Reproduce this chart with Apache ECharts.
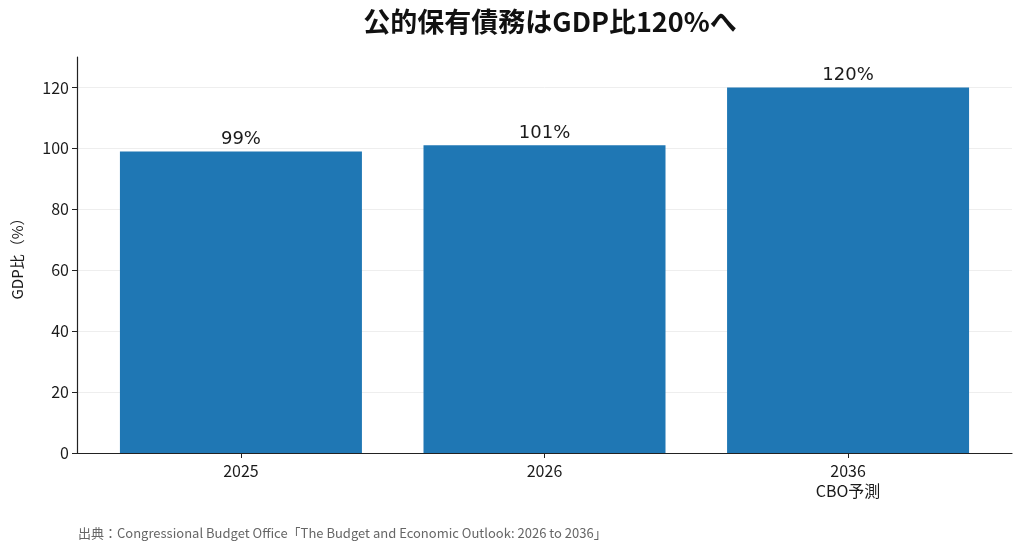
<!DOCTYPE html>
<html>
<head>
<meta charset="utf-8">
<script src="https://cdn.jsdelivr.net/npm/echarts@6/dist/echarts.min.js"></script>
<style>
  html, body { margin: 0; padding: 0; background: #fff; }
  #chart { width: 1024px; height: 556px; }
</style>
</head>
<body>
<div id="chart"></div>
<script>
// データ
const categories = ['2025', '2026', '2036\nCBO予測'];
const debtRatio = [99, 101, 120];
const barLabels = ['99%', '101%', '120%'];
const yTicks = [0, 20, 40, 60, 80, 100, 120];

const jp = '"Noto Sans CJK JP", "Noto Sans", sans-serif';

let chart = echarts.init(document.getElementById('chart'));

let option = {
  backgroundColor: '#ffffff',
  animation: false,
  title: {
    text: '公的保有債務はGDP比120%へ',
    left: 545,
    textAlign: 'center',
    top: 3,
    textStyle: { fontFamily: jp, fontSize: 27, fontWeight: 'bold', color: '#111' }
  },
  graphic: [{
    type: 'text',
    left: 78,
    top: 527,
    style: {
      text: '出典：Congressional Budget Office「The Budget and Economic Outlook: 2026 to 2036」',
      font: '13px "Noto Sans CJK JP"',
      fill: '#666'
    }
  }],
  grid: { left: 77, right: 12, top: 57, bottom: 103 },
  xAxis: {
    type: 'value',
    min: -0.54,
    max: 2.54,
    splitLine: { show: false },
    axisLine: { show: true, onZero: false, lineStyle: { color: '#222', width: 1.2 } },
    axisTick: { show: true, customValues: [0, 1, 2], length: 5, lineStyle: { color: '#222' } },
    axisLabel: {
      customValues: [0, 1, 2],
      formatter: function (v) { return categories[Math.round(v)]; },
      fontFamily: jp, fontSize: 16, color: '#1a1a1a', margin: 8, lineHeight: 20
    }
  },
  yAxis: {
    type: 'value',
    min: 0,
    max: 130,
    interval: 20,
    name: 'GDP比（%）',
    nameLocation: 'middle',
    nameGap: 52,
    nameTextStyle: { fontFamily: jp, fontSize: 15, color: '#1a1a1a' },
    axisLine: { show: true, onZero: false, lineStyle: { color: '#222', width: 1.2 } },
    axisTick: { show: true, customValues: yTicks, length: 5, lineStyle: { color: '#222' } },
    axisLabel: {
      customValues: yTicks,
      fontFamily: jp, fontSize: 16, color: '#1a1a1a', margin: 8
    },
    splitLine: {
      show: true,
      lineStyle: {
        color: ['#eeeeee', '#eeeeee', '#eeeeee', '#eeeeee', '#eeeeee', '#eeeeee', '#eeeeee', 'rgba(0,0,0,0)'],
        width: 1
      }
    }
  },
  series: [{
    type: 'bar',
    barWidth: 242,
    itemStyle: { color: '#1f77b4' },
    label: {
      show: true,
      position: 'top',
      distance: 3,
      formatter: function (p) { return barLabels[p.dataIndex]; },
      fontFamily: '"DejaVu Sans", sans-serif',
      fontSize: 18,
      color: '#1a1a1a'
    },
    data: debtRatio.map(function (v, i) { return [i, v]; })
  }]
};

chart.setOption(option);
</script>
</body>
</html>
